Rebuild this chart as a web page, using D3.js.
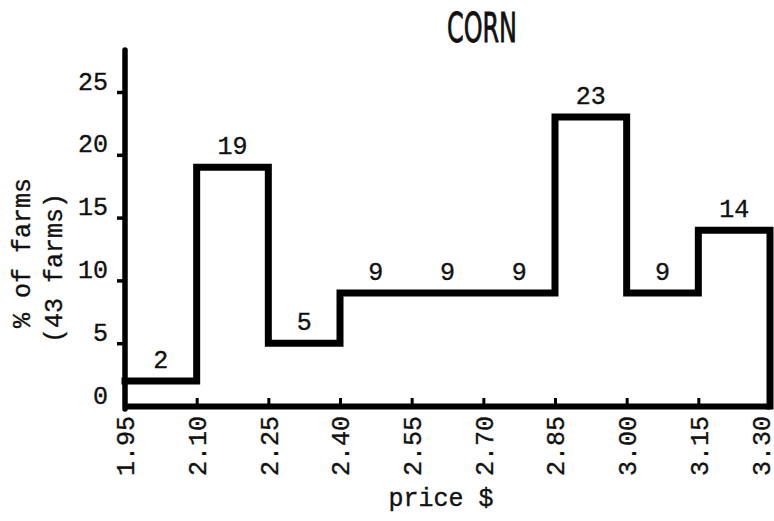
<!DOCTYPE html>
<html>
<head>
<meta charset="utf-8">
<script src="https://cdn.jsdelivr.net/npm/d3@7/dist/d3.min.js"></script>
<style>
  body { margin: 0; background: #fff; }
  svg { display: block; }
  .mono { font-family: "Liberation Mono", "Courier New", monospace; fill: #111; stroke: #111; stroke-width: 0.35px; }
</style>
</head>
<body>
<svg id="chart" width="774" height="521"></svg>
<script>
// price bins (edges), % of farms per bin, tick labels
var binEdges = [1.95, 2.10, 2.25, 2.40, 2.55, 2.70, 2.85, 3.00, 3.15, 3.30];
var pctFarms = [2, 19, 5, 9, 9, 9, 23, 9, 14];
var xTickLabels = ["1.95", "2.10", "2.25", "2.40", "2.55", "2.70", "2.85", "3.00", "3.15", "3.30"];
var yTicks = [0, 5, 10, 15, 20, 25];

var svg = d3.select("#chart"),
  plotLeft = 125,
  plotRight = 770,
  plotTop = 50,
  base = 406,
  fontSize = 25;

var x = d3.scaleLinear().domain([1.95, 3.30]).range([plotLeft, plotRight]);
var y = d3.scaleLinear().domain([0, 25]).range([base, 92]);

// title
svg.append("text")
  .attr("x", 482)
  .attr("y", 42)
  .attr("text-anchor", "middle")
  .attr("textLength", 70)
  .attr("lengthAdjust", "spacingAndGlyphs")
  .style("font-family", "'Liberation Sans Narrow', 'DejaVu Sans Condensed', sans-serif")
  .style("font-size", "41px")
  .style("fill", "#111")
  .style("stroke", "#111")
  .style("stroke-width", "0.8px")
  .text("CORN");

// x axis (baseline + small upward ticks)
var xAxis = d3.axisBottom(x)
  .tickValues(binEdges)
  .tickFormat(function(d, i){ return xTickLabels[i]; })
  .tickSizeInner(-8)
  .tickSizeOuter(0);

var xg = svg.append("g")
  .attr("transform", "translate(0," + base + ")")
  .call(xAxis);

xg.select(".domain")
  .attr("stroke", "#000")
  .attr("stroke-width", 6);

xg.selectAll(".tick line")
  .attr("stroke", "#000")
  .attr("stroke-width", 3);

// last label is pulled in a little so it stays inside the page
xg.selectAll(".tick text")
  .attr("class", "mono")
  .attr("transform", "rotate(-90)")
  .attr("text-anchor", "end")
  .attr("x", -10)
  .attr("y", function(d, i){ return i === binEdges.length - 1 ? -9 : 0; })
  .attr("dy", "0.35em")
  .style("font-size", fontSize + "px")
  .attr("fill", "#111");

// y axis
var yAxis = d3.axisLeft(y)
  .tickValues(yTicks)
  .tickSize(8)
  .tickPadding(9);

var yg = svg.append("g")
  .attr("transform", "translate(" + plotLeft + ",0)")
  .call(yAxis);

yg.select(".domain").remove();

yg.selectAll(".tick line")
  .attr("stroke", "#000")
  .attr("stroke-width", 3.5)
  .style("display", function(d){ return d === 0 ? "none" : null; });

yg.selectAll(".tick text")
  .attr("class", "mono")
  .attr("y", -11)
  .style("font-size", fontSize + "px")
  .attr("fill", "#111");

yg.append("line")
  .attr("x1", 0).attr("x2", 0)
  .attr("y1", base + 3)
  .attr("y2", plotTop)
  .attr("stroke", "#000")
  .attr("stroke-width", 5.5)
  .attr("stroke-linecap", "round");

// step outline of the histogram
var stepPoints = pctFarms.map(function(v, i){ return [binEdges[i], v]; });
stepPoints.push([binEdges[binEdges.length - 1], pctFarms[pctFarms.length - 1]]);
stepPoints.push([binEdges[binEdges.length - 1], 0]);

var stepLine = d3.line()
  .x(function(d){ return x(d[0]); })
  .y(function(d){ return y(d[1]); })
  .curve(d3.curveStepAfter);

svg.append("path")
  .datum(stepPoints)
  .attr("d", stepLine)
  .attr("fill", "none")
  .attr("stroke", "#000")
  .attr("stroke-width", 7)
  .attr("stroke-linejoin", "miter")
  .attr("stroke-linecap", "square");

// value labels
svg.selectAll(".val")
  .data(pctFarms)
  .enter()
  .append("text")
  .attr("class", "val mono")
  .attr("x", function(d, i){ return x((binEdges[i] + binEdges[i + 1]) / 2); })
  .attr("y", function(d){ return y(d) - 13; })
  .attr("text-anchor", "middle")
  .style("font-size", fontSize + "px")
  .text(function(d){ return d; });

// axis titles
svg.append("text")
  .attr("class", "mono")
  .attr("transform", "translate(21,253) rotate(-90)")
  .attr("text-anchor", "middle")
  .attr("dy", "0.35em")
  .style("font-size", fontSize + "px")
  .text("% of farms");

svg.append("text")
  .attr("class", "mono")
  .attr("transform", "translate(53,268) rotate(-90)")
  .attr("text-anchor", "middle")
  .attr("dy", "0.35em")
  .style("font-size", fontSize + "px")
  .text("(43 farms)");

svg.append("text")
  .attr("class", "mono")
  .attr("x", 441)
  .attr("y", 506)
  .attr("text-anchor", "middle")
  .style("font-size", fontSize + "px")
  .text("price $");
</script>
</body>
</html>
